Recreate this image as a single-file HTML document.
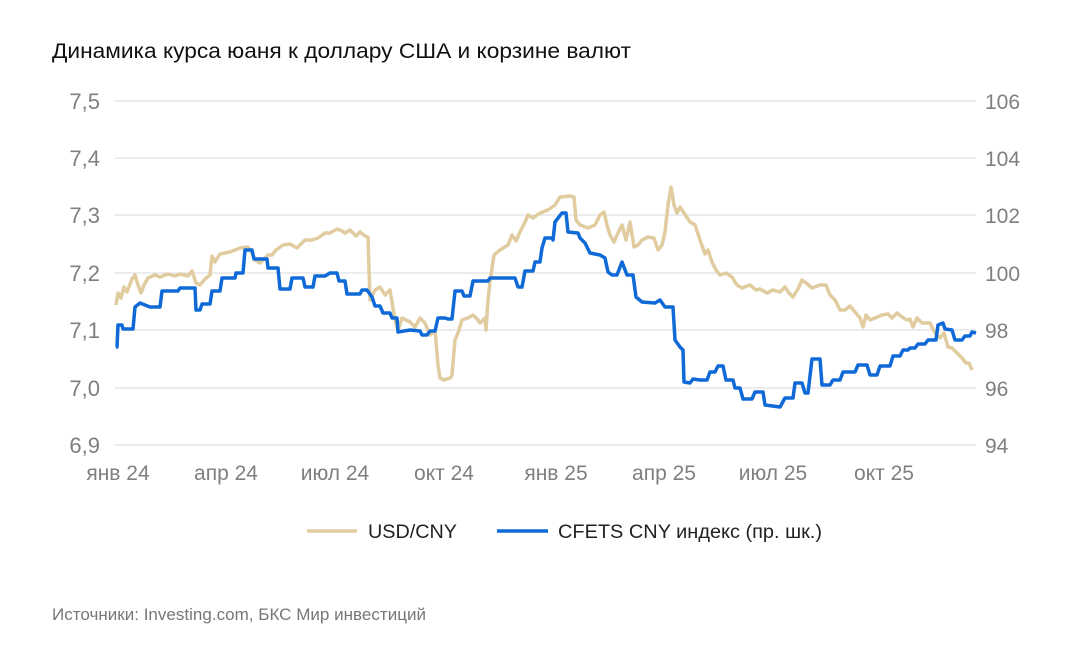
<!DOCTYPE html>
<html><head><meta charset="utf-8"><style>
body{margin:0;background:#fff;}
svg{display:block;font-family:"Liberation Sans",Arial,sans-serif;}
</style></head><body>
<svg width="1086" height="652" viewBox="0 0 1086 652">
<text x="52" y="58" font-size="21" fill="#111" textLength="579" lengthAdjust="spacingAndGlyphs">Динамика курса юаня к доллару США и корзине валют</text>
<g stroke="#d9d9d9" stroke-width="1">
<line x1="115" x2="976" y1="101" y2="101"/><line x1="115" x2="976" y1="158" y2="158"/>
<line x1="115" x2="976" y1="215" y2="215"/><line x1="115" x2="976" y1="273" y2="273"/>
<line x1="115" x2="976" y1="330" y2="330"/><line x1="115" x2="976" y1="388" y2="388"/>
<line x1="115" x2="976" y1="445" y2="445"/>
</g>
<g font-size="22" fill="#7f7f7f" text-anchor="end">
<text x="100" y="109">7,5</text><text x="100" y="166">7,4</text><text x="100" y="223">7,3</text>
<text x="100" y="281">7,2</text><text x="100" y="338">7,1</text><text x="100" y="396">7,0</text><text x="100" y="453">6,9</text>
</g>
<g font-size="21" fill="#7f7f7f">
<text x="985" y="109">106</text><text x="985" y="166">104</text><text x="985" y="223">102</text>
<text x="985" y="281">100</text><text x="985" y="338">98</text><text x="985" y="396">96</text><text x="985" y="453">94</text>
</g>
<g font-size="21" fill="#7f7f7f" text-anchor="middle">
<text x="118" y="480">янв 24</text><text x="226" y="480">апр 24</text><text x="335" y="480">июл 24</text>
<text x="444" y="480">окт 24</text><text x="556" y="480">янв 25</text><text x="664" y="480">апр 25</text>
<text x="773" y="480">июл 25</text><text x="884" y="480">окт 25</text>
</g>
<polyline fill="none" stroke="#e0cc9f" stroke-width="3.5" stroke-linejoin="round" points="116,305 118,293 121,298 124,287 127,292 132,279 135,275 138,285 141,293 144,285 148,278 155,275 160,277 168,274 175,276 180,274 188,276 192,271 196,283 200,285 205,279 210,275 212,256 215,262 220,254 230,252 240,248 248,247 252,253 255,260 260,263 268,255 272,255 276,250 283,245 290,244 297,248 305,240 312,240 318,238 325,233 330,233 337,229 342,231 345,233 350,230 356,236 360,232 365,236 368,237 370,300 375,290 380,287 385,295 390,290 395,320 398,330 402,318 410,322 415,327 420,318 425,323 430,335 435,330 438,365 440,378 444,380 450,378 452,375 455,340 458,333 462,320 468,318 473,315 478,320 480,323 485,318 486,330 488,300 490,282 494,255 500,250 508,245 512,235 516,241 520,232 525,222 528,215 533,218 540,213 548,210 555,205 560,197 570,196 574,197 576,220 580,225 588,228 595,225 600,215 604,212 607,225 610,235 614,242 618,233 622,225 626,240 630,222 634,247 638,245 642,240 648,237 654,238 658,250 662,245 665,232 668,205 671,187 674,205 677,213 680,207 684,213 690,222 695,225 700,240 705,254 708,250 712,262 716,270 720,275 726,273 732,277 737,285 742,288 750,285 756,290 760,289 767,293 773,290 780,292 785,287 789,293 793,297 798,289 802,280 806,283 812,288 820,285 826,285 830,295 835,300 840,310 845,310 850,306 855,312 860,318 863,327 866,315 870,320 875,318 882,315 888,314 892,318 897,313 902,317 907,320 910,319 913,327 917,318 922,323 930,323 935,333 940,338 944,333 948,347 952,348 956,352 962,358 966,363 969,363 972,370"/>
<polyline fill="none" stroke="#0f6ad8" stroke-width="3.5" stroke-linejoin="round" points="116,347 117,347 118,325 122,325 123,329 133,329 135,307 140,303 145,305 150,307 160,307 162,291 178,291 180,288 195,288 196,310 200,310 202,304 210,304 212,291 220,291 222,278 235,278 236,273 243,273 245,250 252,250 254,259 267,259 268,268 278,268 280,289 290,289 292,278 303,278 305,287 313,287 315,276 325,276 330,273 337,273 339,281 345,281 347,294 360,294 362,290 367,290 372,297 375,306 380,306 383,313 390,313 392,318 397,318 398,332 410,330 420,331 422,335 427,335 430,331 435,331 438,318 445,318 448,319 452,319 455,291 462,291 464,296 470,296 473,281 488,281 490,278 515,278 518,287 522,287 525,271 533,271 535,262 540,262 542,248 545,238 552,238 553,240 555,222 562,213 566,213 568,232 578,233 580,238 585,243 590,253 600,255 605,258 608,272 612,275 617,275 622,262 627,275 633,275 636,297 642,302 655,303 660,300 665,307 673,307 675,340 680,347 683,350 684,382 690,383 693,379 700,380 707,380 710,372 715,372 718,366 723,366 726,380 733,380 735,388 740,388 743,399 752,399 755,392 763,392 765,405 780,407 785,398 793,398 795,383 802,383 805,393 808,393 812,359 820,359 822,385 830,385 833,380 840,380 843,372 855,372 858,365 867,365 870,375 877,375 880,366 890,366 893,356 900,356 903,350 908,350 910,348 915,348 918,344 925,344 928,340 936,340 938,325 943,323 945,329 952,330 955,340 962,340 965,336 970,336 972,332 976,333"/>
<line x1="307" x2="357" y1="531" y2="531" stroke="#e0cc9f" stroke-width="3.5"/>
<text x="368" y="538" font-size="19.5" fill="#222" textLength="89" lengthAdjust="spacingAndGlyphs">USD/CNY</text>
<line x1="497" x2="548" y1="531" y2="531" stroke="#0f6ad8" stroke-width="3.5"/>
<text x="558" y="538" font-size="19.5" fill="#222" textLength="264" lengthAdjust="spacingAndGlyphs">CFETS CNY индекс (пр. шк.)</text>
<text x="52" y="620" font-size="16.5" fill="#777" textLength="374" lengthAdjust="spacingAndGlyphs">Источники: Investing.com, БКС Мир инвестиций</text>
</svg>
</body></html>
